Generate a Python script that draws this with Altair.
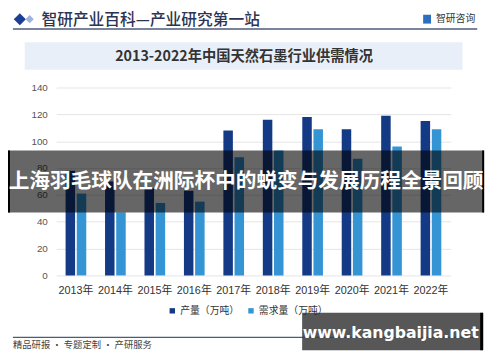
import altair as alt
import pandas as pd

years = ["2013年", "2014年", "2015年", "2016年", "2017年",
         "2018年", "2019年", "2020年", "2021年", "2022年"]
production = [78, 70, 65, 63, 108, 116, 118, 109, 119, 115]
demand = [61, 47, 54, 55, 88, 93, 109, 87, 96, 109]
series = ["产量（万吨）", "需求量（万吨）"]
colors = ["#143a86", "#3494d4"]
y_ticks = [0, 20, 40, 60, 80, 100, 120, 140]

chart_title = "2013-2022年中国天然石墨行业供需情况"
header_text = "智研产业百科—产业研究第一站"
logo_text = "智研咨询"
footer_text = "精品研报 · 专题定制 · 产研服务"
banner_text = "上海羽毛球队在洲际杯中的蜕变与发展历程全景回顾"
site_text = "www.kangbaijia.net"

rows = []
for yr, p, d in zip(years, production, demand):
    rows.append({"year": yr, "series": series[0], "value": p})
    rows.append({"year": yr, "series": series[1], "value": d})
df = pd.DataFrame(rows)
one = pd.DataFrame({"k": [0]})

CJK = "Noto Sans CJK SC"
LAT = "Liberation Sans, Arial, Noto Sans CJK SC"

# plot origin is at page (57, 86)
def px(X):
    return X - 57

def py(Y):
    return Y - 86

def rect(x1, x2, y1, y2, color, opacity=1.0):
    return alt.Chart(one).mark_rect(color=color, opacity=opacity).encode(
        x=alt.value(px(x1)), x2=alt.value(px(x2)),
        y=alt.value(py(y1)), y2=alt.value(py(y2)))

def hline(x1, x2, y, color, width=1.0):
    return alt.Chart(one).mark_rule(color=color, strokeWidth=width).encode(
        x=alt.value(px(x1)), x2=alt.value(px(x2)), y=alt.value(py(y)))

def text(t, x, y, **kw):
    return alt.Chart(one).mark_text(text=t, **kw).encode(
        x=alt.value(px(x)), y=alt.value(py(y)))

bars = alt.Chart(df).mark_bar().encode(
    x=alt.X("year:N", sort=years,
            scale=alt.Scale(paddingInner=0.476, paddingOuter=0.238),
            axis=alt.Axis(title=None, labelAngle=0, ticks=False, domain=False,
                          labelPadding=9, labelFontSize=11, labelColor="#333",
                          labelFont=LAT, grid=False)),
    xOffset=alt.XOffset("series:N", sort=series,
                        scale=alt.Scale(paddingInner=0.15)),
    y=alt.Y("value:Q", scale=alt.Scale(domain=[0, 140]),
            axis=alt.Axis(title=None, values=y_ticks, ticks=False, domain=False,
                          labelPadding=9, labelFontSize=10, labelColor="#555",
                          labelFont=LAT, gridColor="#e4e4e4")),
    color=alt.Color("series:N", sort=series,
                    scale=alt.Scale(domain=series, range=colors),
                    legend=alt.Legend(title=None, orient="none", legendX=113,
                                      legendY=222, direction="horizontal",
                                      symbolType="square", symbolSize=30,
                                      labelFontSize=10, labelColor="#333",
                                      labelFont=CJK, columnPadding=7,
                                      labelOffset=3)),
)

layers = [
    # title box
    rect(25, 470, 40, 68, "#e9eff8"),
    text(chart_title, 248, 55, font=CJK, fontSize=14.5, fontWeight="bold",
         color="#333333", align="center", baseline="middle"),
    # header
    alt.Chart(one).mark_point(shape="diamond", filled=True, size=150,
                              color="#1b3f94", opacity=1).encode(
        x=alt.value(px(20)), y=alt.value(py(16.5))),
    alt.Chart(one).mark_point(shape="diamond", filled=True, size=70,
                              color="#9fb4dd", opacity=1).encode(
        x=alt.value(px(30)), y=alt.value(py(16.5))),
    text(header_text, 42, 17.5, font=CJK, fontSize=16, fontWeight=500,
         color="#2b3452", align="left", baseline="middle"),
    hline(13, 485, 26.5, "#4d5b78", 1.5),
    rect(430, 438, 12, 21, "#2a6fc0"),
    text(logo_text, 443, 16.5, font=CJK, fontSize=10, color="#333",
         align="left", baseline="middle"),
    bars,
    # footer
    hline(13, 485, 340, "#4d5b78", 1.2),
    text(footer_text, 13, 348, font=CJK, fontSize=9.5, color="#444",
         align="left", baseline="middle"),
    # overlays
    rect(8, 492, 150, 213, "#000000", 0.6),
    rect(8, 10, 150, 213, "#000000", 1.0),
    rect(490, 492, 150, 213, "#000000", 1.0),
    text(banner_text, 250, 182, font=CJK, fontSize=21, fontWeight="bold",
         color="#ffffff", align="center", baseline="middle"),
    rect(307, 491, 315, 353, "#3a3a3a", 0.85),
    rect(488, 491, 315, 353, "#000000", 1.0),
    text(site_text, 397, 336, font="DejaVu Sans, Liberation Sans", fontSize=16,
         fontWeight="bold", color="#ffffff", align="center", baseline="middle"),
]

chart = alt.layer(*layers).properties(
    width=401, height=191,
    autosize=alt.AutoSizeParams(type="none"),
    padding={"left": 49, "top": 78, "right": 42, "bottom": 75},
    background="white",
).configure_view(stroke=None)

chart.save("out.html", embed_options={"renderer": "svg", "actions": False})
